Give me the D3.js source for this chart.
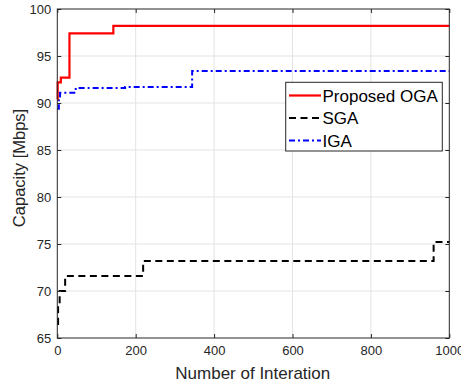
<!DOCTYPE html>
<html><head><meta charset="utf-8">
<script src="https://cdn.jsdelivr.net/npm/d3@7"></script>
<style>body{margin:0;background:#fff;}svg{display:block;font-family:"Liberation Sans",Arial,Helvetica,sans-serif;}</style>
</head><body>
<script>
// Data
const seriesNames = ["Proposed OGA", "SGA", "IGA"];
const ogaIter = [0, 1, 9, 31, 143, 1000];
const ogaVals = [90.4, 92.2, 92.7, 97.4, 98.2, 98.2];
const sgaIter = [0, 2, 6, 20, 219, 960, 1000];
const sgaVals = [66.5, 68.5, 70.0, 71.6, 73.2, 75.2, 75.2];
const igaIter = [0, 4, 7, 47, 173, 344, 1000];
const igaVals = [89.4, 90.3, 91.1, 91.6, 91.7, 93.4, 93.4];
const xTicks = [0, 200, 400, 600, 800, 1000];
const yTicks = [65, 70, 75, 80, 85, 90, 95, 100];

const W = 461, H = 384;
const L = 57.3, R = 449.3, T = 9, B = 338;
const svg = d3.select("body").append("svg").attr("width", W).attr("height", H);
const x = d3.scaleLinear().domain([0, 1000]).range([L, R]);
const y = d3.scaleLinear().domain([65, 100]).range([B, T]);
const axisCol = "#262626";

// grid
const g = svg.append("g");
g.selectAll(".gx").data(xTicks.slice(1, -1)).join("line")
  .attr("x1", d => x(d)).attr("x2", d => x(d)).attr("y1", T).attr("y2", B)
  .attr("stroke", "#e3e3e3").attr("stroke-width", 1);
g.selectAll(".gy").data(yTicks.slice(1, -1)).join("line")
  .attr("y1", d => y(d)).attr("y2", d => y(d)).attr("x1", L).attr("x2", R)
  .attr("stroke", "#e3e3e3").attr("stroke-width", 1);

// lines
const mk = (xs, vs) => xs.map((d, i) => [d, vs[i]]);
const line = d3.line().x(d => x(d[0])).y(d => y(d[1])).curve(d3.curveStepAfter);
const series = [
  {data: mk(sgaIter, sgaVals), color: "#000", dash: "7,4.5", w: 2},
  {data: mk(igaIter, igaVals), color: "#0000ff", dash: "6,3,2,3", w: 2},
  {data: mk(ogaIter, ogaVals), color: "#ff0000", dash: null, w: 2.2}
];
series.forEach(s => {
  svg.append("path").attr("d", line(s.data)).attr("fill", "none")
    .attr("stroke", s.color).attr("stroke-width", s.w)
    .attr("stroke-dasharray", s.dash);
});

// axes
const ax = svg.append("g").attr("transform", `translate(0,${B})`)
  .call(d3.axisBottom(x).tickValues(xTicks).tickSize(-4).tickPadding(8).tickFormat(d3.format("d")));
const ay = svg.append("g").attr("transform", `translate(${L},0)`)
  .call(d3.axisLeft(y).tickValues(yTicks).tickSize(-4).tickPadding(6).tickFormat(d3.format("d")));
const axTop = svg.append("g").attr("transform", `translate(0,${T})`)
  .call(d3.axisTop(x).tickValues(xTicks).tickSize(-4).tickFormat(""));
const ayR = svg.append("g").attr("transform", `translate(${R},0)`)
  .call(d3.axisRight(y).tickValues(yTicks).tickSize(-4).tickFormat(""));
[ax, ay, axTop, ayR].forEach(a => {
  a.select(".domain").remove();
  a.selectAll("line").attr("stroke", axisCol);
  a.selectAll("text").attr("fill", axisCol).style("font-size", "13px")
    .style("font-family", '"Liberation Sans",Arial,sans-serif');
});
svg.append("rect").attr("x", L).attr("y", T).attr("width", R - L).attr("height", B - T)
  .attr("fill", "none").attr("stroke", axisCol).attr("stroke-width", 1);

// axis labels
svg.append("text").attr("x", (L + R) / 2 - 0.5).attr("y", 378.5).attr("text-anchor", "middle")
  .attr("fill", axisCol).style("font-size", "17px").text("Number of Interation");
svg.append("text").attr("transform", "translate(25,168) rotate(-90)").attr("text-anchor", "middle")
  .attr("fill", axisCol).style("font-size", "16.5px").text("Capacity [Mbps]");

// legend
const lg = svg.append("g");
lg.append("rect").attr("x", 285.7).attr("y", 82.3).attr("width", 156.6).attr("height", 68.7)
  .attr("fill", "#fff").attr("stroke", axisCol).attr("stroke-width", 1);
const legRows = [
  {name: seriesNames[0], s: series[2], cy: 95.5},
  {name: seriesNames[1], s: series[0], cy: 118},
  {name: seriesNames[2], s: series[1], cy: 140.5}
];
legRows.forEach(r => {
  lg.append("line").attr("x1", 289).attr("x2", 321).attr("y1", r.cy).attr("y2", r.cy)
    .attr("stroke", r.s.color).attr("stroke-width", r.s.w).attr("stroke-dasharray", r.s.dash);
  lg.append("text").attr("x", 322.5).attr("y", r.cy).attr("dy", "0.36em")
    .attr("fill", "#000").style("font-size", "17px").text(r.name);
});
</script>
</body></html>
